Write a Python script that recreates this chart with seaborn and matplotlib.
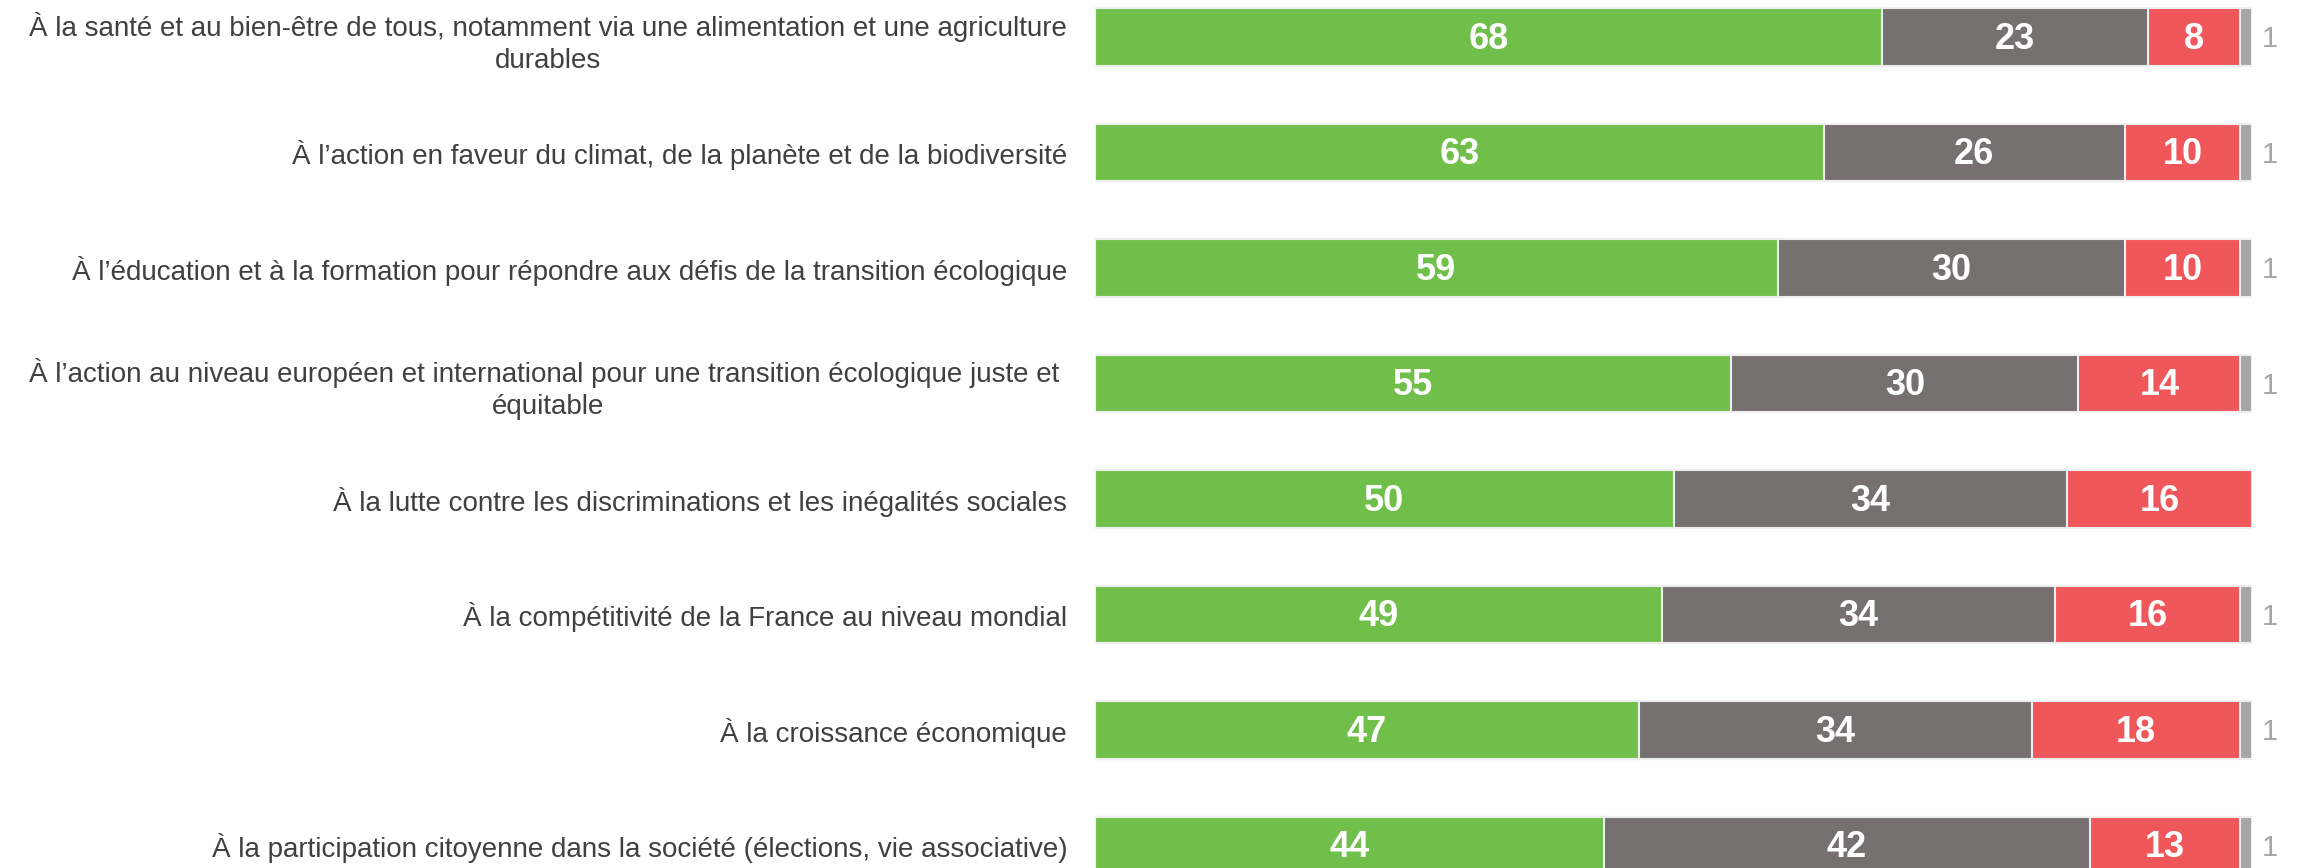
import numpy as np
import pandas as pd
import seaborn as sns
from matplotlib import pyplot as plt

# %%
# data
labels = [
    "À la santé et au bien-être de tous, notamment via une alimentation et une agriculture\ndurables",
    "À l’action en faveur du climat, de la planète et de la biodiversité",
    "À l’éducation et à la formation pour répondre aux défis de la transition écologique",
    "À l’action au niveau européen et international pour une transition écologique juste et \néquitable",
    "À la lutte contre les discriminations et les inégalités sociales",
    "À la compétitivité de la France au niveau mondial",
    "À la croissance économique",
    "À la participation citoyenne dans la société (élections, vie associative)",
]
oui = [68, 63, 59, 55, 50, 49, 47, 44]
non = [23, 26, 30, 30, 34, 34, 34, 42]
sans_avis = [8, 10, 10, 14, 16, 16, 18, 13]
nsp = [1, 1, 1, 1, 0, 1, 1, 1]

colors = ["#70bf4b", "#767170", "#f0575b", "#a6a6a6"]

# %%
df = pd.DataFrame({"label": labels, "oui": oui, "non": non,
                   "sans_avis": sans_avis, "nsp": nsp})
segs = ["oui", "non", "sans_avis", "nsp"]
cum = df[segs].cumsum(axis=1)

sns.set_style("white")
plt.rcParams["font.family"] = ["Liberation Sans", "DejaVu Sans"]

fig = plt.figure(figsize=(22.98, 8.68), dpi=100)
ax = fig.add_axes([1095 / 2298, 0, (2252 - 1095) / 2298, 1])

# stacked bars: draw the longest cumulative first, then shorter ones on top
for seg, col in reversed(list(zip(segs, colors))):
    sns.barplot(x=cum[seg], y=df["label"], orient="h", color=col,
                width=0.5, edgecolor="#eeeeee", linewidth=1.5,
                saturation=1, ax=ax)

# value labels
for i in range(len(df)):
    start = 0
    for seg in segs[:3]:
        v = df.loc[i, seg]
        ax.text(start + v / 2, i + 0.02, str(v), ha="center", va="center",
                color="white", fontsize=26, fontweight="bold")
        start += v
    if df.loc[i, "nsp"] > 0:
        ax.text(cum.loc[i, "nsp"] + 0.8, i + 0.02, str(df.loc[i, "nsp"]),
                ha="left", va="center", color="#a6a6a6", fontsize=21,
                clip_on=False)

ax.set_xlim(0, 100)
ax.set_ylim(7.195, -0.32)
ax.set_xlabel("")
ax.set_ylabel("")
ax.set_xticks([])
ax.tick_params(axis="y", length=0, pad=20)
for t in ax.get_yticklabels():
    t.set_fontsize(20)
    t.set_color("#404040")
    t.set_multialignment("center")
    t.set_linespacing(1.3)
sns.despine(ax=ax, left=True, bottom=True)

plt.savefig("out.png", dpi=100)
